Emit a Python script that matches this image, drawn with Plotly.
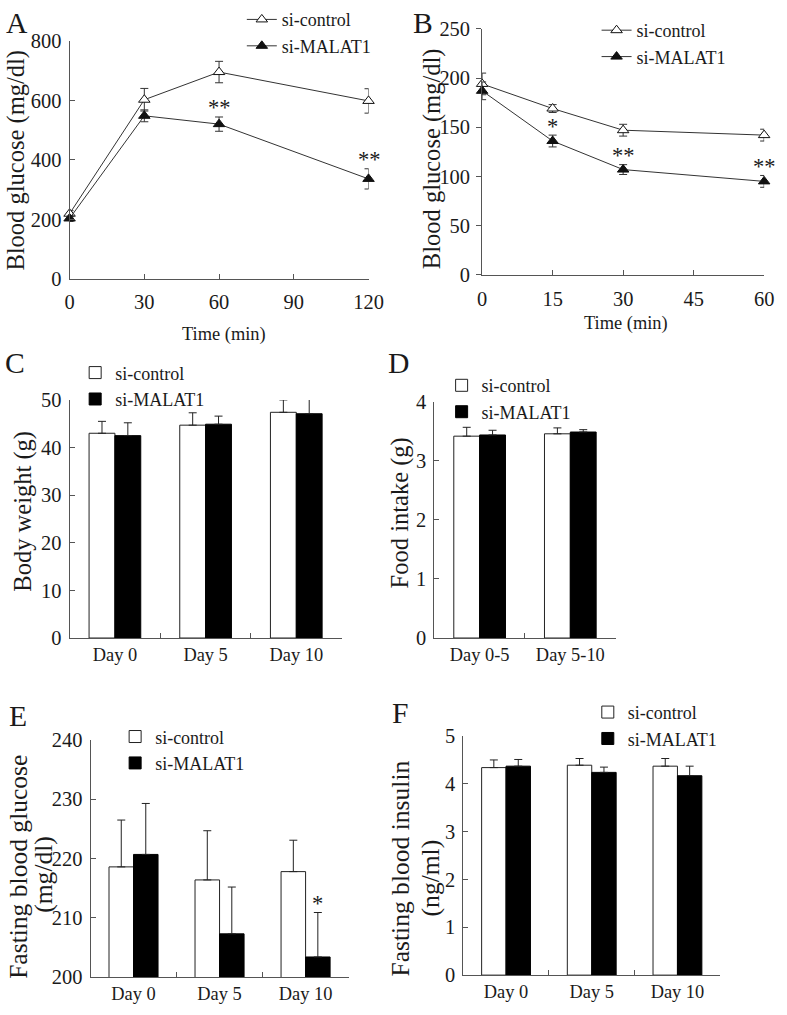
import plotly.graph_objects as go

FONT = "Liberation Serif, Times New Roman, serif"
INK = "#1a1a1a"
AXIS = "#555555"
W, H = 787, 1015
BARGAP = 0.43

# A - glucose tolerance test (mg/dl)
gtt_time = [0, 30, 60, 120]
gtt_ctrl = [219, 602, 695, 598]
gtt_ctrl_sd = [10, 38, 36, 41]
gtt_mal = [203, 548, 520, 336]
gtt_mal_sd = [10, 20, 24, 34]
gtt_sig = ["", "", "**", "**"]

# B - insulin tolerance test (mg/dl)
itt_time = [0, 15, 30, 60]
itt_ctrl = [194, 169, 147, 142]
itt_ctrl_sd = [11, 4, 6, 6]
itt_mal = [187, 136, 107, 95]
itt_mal_sd = [9, 6, 5, 6]
itt_sig = ["", "*", "**", "**"]

# C - body weight (g)
days = ["Day 0", "Day 5", "Day 10"]
bw_ctrl = [43.0, 44.7, 47.4]
bw_ctrl_sd = [2.5, 2.6, 2.6]
bw_mal = [42.5, 44.9, 47.1]
bw_mal_sd = [2.7, 1.7, 3.2]

# D - food intake (g)
periods = ["Day 0-5", "Day 5-10"]
food_ctrl = [3.42, 3.46]
food_ctrl_sd = [0.15, 0.10]
food_mal = [3.44, 3.49]
food_mal_sd = [0.08, 0.04]

# E - fasting blood glucose (mg/dl)
fbg_ctrl = [218.6, 216.4, 217.8]
fbg_ctrl_sd = [7.9, 8.3, 5.3]
fbg_mal = [220.7, 207.3, 203.4]
fbg_mal_sd = [8.6, 7.9, 7.5]
fbg_sig = ["", "", "*"]

# F - fasting blood insulin (ng/ml)
ins_ctrl = [4.34, 4.39, 4.37]
ins_ctrl_sd = [0.16, 0.14, 0.16]
ins_mal = [4.37, 4.24, 4.17]
ins_mal_sd = [0.14, 0.11, 0.20]

# the photo of the page lands shrunk by ~2% and offset a few px,
# so target pixel positions are mapped back through this before use
K, OX, OY = 0.978, 3.2, 10.2
FS = 1 / K


def fx(p):
    return (p - OX) / K / W


def fy(p):
    return 1 - (p - OY) / K / H


fig = go.Figure()
annotations = []


def star_notes(n, xs, mean, sd, sig):
    for x, m, s, t in zip(xs, mean, sd, sig):
        if t:
            annotations.append(dict(
                text=t, x=x, y=m + s, xref=f"x{n}", yref=f"y{n}", showarrow=False,
                xanchor="center", yanchor="middle", yshift=9,
                font=dict(family=FONT, size=22 * FS, color=INK)))


def line_panel(n, t, ctrl, ctrl_sd, mal, mal_sd, sig):
    xa, ya = f"x{n}", f"y{n}"
    leg = f"legend{n}" if n > 1 else "legend"
    common = dict(x=t, xaxis=xa, yaxis=ya, mode="lines+markers", cliponaxis=False,
                  line=dict(color="#333333", width=1), legend=leg)
    fig.add_trace(go.Scatter(
        y=ctrl, name="si-control",
        marker=dict(symbol="triangle-up", size=10, color="white", line=dict(color="#111", width=1)),
        error_y=dict(type="data", array=ctrl_sd, color="#333", thickness=1, width=4),
        **common))
    fig.add_trace(go.Scatter(
        y=mal, name="si-MALAT1",
        marker=dict(symbol="triangle-up", size=10, color="#111", line=dict(color="#111", width=1)),
        error_y=dict(type="data", array=mal_sd, color="#333", thickness=1, width=4),
        **common))
    star_notes(n, t, mal, mal_sd, sig)


def bar_panel(n, cats, ctrl, ctrl_sd, mal, mal_sd, sig=None):
    xa, ya = f"x{n}", f"y{n}"
    leg = f"legend{n}"
    fig.add_trace(go.Bar(
        x=cats, y=ctrl, name="si-control", xaxis=xa, yaxis=ya, legend=leg,
        marker=dict(color="white", line=dict(color="#222", width=1)),
        error_y=dict(type="data", symmetric=False, array=ctrl_sd, arrayminus=[0] * len(cats),
                     color="#222", thickness=1, width=4)))
    fig.add_trace(go.Bar(
        x=cats, y=mal, name="si-MALAT1", xaxis=xa, yaxis=ya, legend=leg,
        marker=dict(color="black", line=dict(color="black", width=1)),
        error_y=dict(type="data", symmetric=False, array=mal_sd, arrayminus=[0] * len(cats),
                     color="#222", thickness=1, width=4)))
    if sig:
        # second bar of each group sits a quarter of the group width right of the category
        pos = [i + (1 - BARGAP) / 4 for i in range(len(cats))]
        star_notes(n, pos, mal, mal_sd, sig)


line_panel(1, gtt_time, gtt_ctrl, gtt_ctrl_sd, gtt_mal, gtt_mal_sd, gtt_sig)
line_panel(2, itt_time, itt_ctrl, itt_ctrl_sd, itt_mal, itt_mal_sd, itt_sig)
bar_panel(3, days, bw_ctrl, bw_ctrl_sd, bw_mal, bw_mal_sd)
bar_panel(4, periods, food_ctrl, food_ctrl_sd, food_mal, food_mal_sd)
bar_panel(5, days, fbg_ctrl, fbg_ctrl_sd, fbg_mal, fbg_mal_sd, fbg_sig)
bar_panel(6, days, ins_ctrl, ins_ctrl_sd, ins_mal, ins_mal_sd)

tickfont = dict(family=FONT, size=20 * FS, color=INK)
catfont = dict(family=FONT, size=18 * FS, color=INK)


def ax(**kw):
    d = dict(showline=True, linecolor=AXIS, linewidth=1, ticks="inside", ticklen=5,
             tickcolor=AXIS, showgrid=False, zeroline=False, fixedrange=True, tickfont=tickfont)
    d.update(kw)
    return d


# target pixel boxes of each plot area: (left, right, top, bottom)
boxes = {
    1: (68, 368, 40, 278),
    2: (482, 765, 28, 274),
    3: (68, 341, 399, 637),
    4: (434, 616, 401, 637),
    5: (89, 348, 739, 976),
    6: (463, 721, 735, 974),
}

layout = {}
for n, (l, r, t, b) in boxes.items():
    layout[f"xaxis{n}"] = dict(domain=[fx(l), fx(r)], anchor=f"y{n}")
    layout[f"yaxis{n}"] = dict(domain=[fy(b), fy(t)], anchor=f"x{n}")

layout["xaxis1"].update(ax(range=[0, 120], tickvals=[0, 30, 60, 90, 120], ticklabelstandoff=5))
layout["yaxis1"].update(ax(range=[0, 800], dtick=200, ticklabelstandoff=3))
layout["xaxis2"].update(ax(range=[0, 60], tickvals=[0, 15, 30, 45, 60], ticklabelstandoff=6))
layout["yaxis2"].update(ax(range=[0, 250], dtick=50, ticks="outside", ticklabelstandoff=2))
for n in [3, 4, 5, 6]:
    layout[f"xaxis{n}"].update(ax(type="category", tickson="boundaries", tickfont=catfont,
                                  ticklabelstandoff=0))
layout["yaxis3"].update(ax(range=[0, 50], dtick=10, ticklabelstandoff=3))
layout["yaxis4"].update(ax(range=[0, 4], dtick=1, ticklabelstandoff=3))
layout["yaxis5"].update(ax(range=[200, 240], dtick=10, ticklabelstandoff=3))
layout["yaxis6"].update(ax(range=[0, 5], dtick=1, ticklabelstandoff=3))

legfont = dict(family=FONT, size=18, color=INK)
# legend left edge and top in figure pixels (already tuned against the photo)
legpos = {1: (243, -10), 2: (607, 1), 3: (72, 351), 4: (448, 364), 5: (113, 723), 6: (598, 698)}
for n, (lx, ly) in legpos.items():
    key = f"legend{n}" if n > 1 else "legend"
    layout[key] = dict(x=lx / W, y=1 - ly / H, xanchor="left", yanchor="top", font=legfont,
                       bgcolor="rgba(0,0,0,0)", itemwidth=30, tracegroupgap=0,
                       itemclick=False, itemdoubleclick=False)


def note(text, cx, cy, size, angle=0):
    annotations.append(dict(text=text, x=fx(cx), y=fy(cy), xref="paper", yref="paper",
                            xanchor="center", yanchor="middle", showarrow=False,
                            textangle=angle, font=dict(family=FONT, size=size * FS, color=INK)))


for letter, (cx, cy) in {"A": (15, 22), "B": (423, 22), "C": (13, 362), "D": (398, 362),
                         "E": (16, 715), "F": (400, 712)}.items():
    note(letter, cx, cy, 29)

for txt, cx, cy, size in [
    ("Blood glucose (mg/dl)", 14, 159, 24),
    ("Blood glucose (mg/dl)", 432, 158, 24),
    ("Body weight (g)", 21, 510, 24),
    ("Food intake (g)", 400, 512, 24),
    ("Fasting blood glucose", 16, 866, 25),
    ("(mg/dl)", 41, 873, 25),
    ("Fasting blood insulin", 400, 867, 25),
    ("(ng/ml)", 430, 877, 25),
]:
    note(txt, cx, cy, size, -90)

note("Time (min)", 223, 334, 18)
note("Time (min)", 626, 323, 18)

fig.update_layout(
    width=W, height=H, margin=dict(l=0, r=0, t=0, b=0),
    paper_bgcolor="white", plot_bgcolor="white",
    barmode="group", bargap=BARGAP, bargroupgap=0,
    font=dict(family=FONT, color=INK),
    annotations=annotations,
    **layout,
)

page_css = (
    "document.documentElement.style.margin='0';"
    "document.documentElement.style.overflow='hidden';"
    "document.body.style.margin='0';"
    "document.body.style.overflow='hidden';"
)
fig.write_html("out.html", config={"displayModeBar": False}, post_script=page_css)
